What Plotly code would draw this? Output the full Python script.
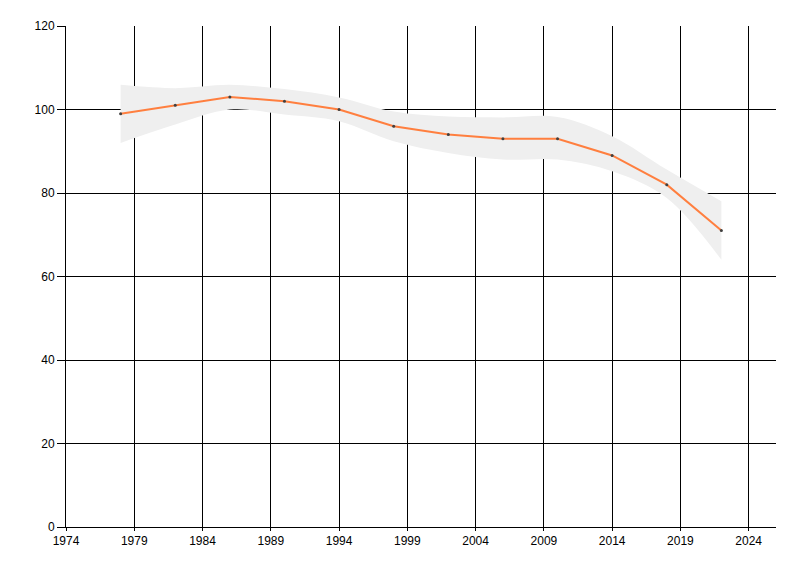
import plotly.graph_objects as go

years = [1978, 1982, 1986, 1990, 1994, 1998, 2002, 2006, 2010, 2014, 2018, 2022]
values = [99, 101, 103, 102, 100, 96, 94, 93, 93, 89, 82, 71]
upper = [105.9, 105.1, 105.9, 104.9, 102.9, 99.5, 98.3, 98.1, 98.2, 93.6, 85.6, 78.0]
lower = [92.0, 96.4, 100.0, 98.8, 97.2, 92.4, 89.6, 88.0, 88.0, 85.2, 78.8, 64.0]

x_ticks = list(range(1974, 2025, 5))
y_ticks = list(range(0, 121, 20))

fig = go.Figure()
fig.add_trace(go.Scatter(x=years, y=lower, mode="lines",
                         line=dict(width=0, shape="spline", color="#eeeeee"),
                         showlegend=False, hoverinfo="skip"))
fig.add_trace(go.Scatter(x=years, y=upper, mode="lines", fill="tonexty",
                         fillcolor="#efefef",
                         line=dict(width=0, shape="spline", color="#eeeeee"),
                         showlegend=False, hoverinfo="skip"))
fig.add_trace(go.Scatter(x=years, y=values, mode="lines+markers",
                         line=dict(color="#ff7f3f", width=2),
                         marker=dict(size=3, color="#404040"),
                         showlegend=False))

font = dict(family="Liberation Sans, Arial, sans-serif", size=12, color="#000000")
fig.update_layout(
    width=800, height=576,
    margin=dict(l=58, r=32, t=18, b=57),
    paper_bgcolor="white", plot_bgcolor="white",
    font=font,
    xaxis=dict(range=[1974, 2026], tickvals=x_ticks, ticktext=[str(v) for v in x_ticks],
               showgrid=True, gridcolor="black", gridwidth=1,
               showline=True, linecolor="black", linewidth=1,
               ticks="outside", ticklen=3, tickcolor="black",
               zeroline=False, fixedrange=True),
    yaxis=dict(range=[0, 120], tickvals=y_ticks, ticktext=[str(v) for v in y_ticks],
               showgrid=True, gridcolor="black", gridwidth=1,
               showline=True, linecolor="black", linewidth=1,
               ticks="outside", ticklen=8, tickcolor="black",
               zeroline=False, fixedrange=True),
)
fig.write_html("out.html")
